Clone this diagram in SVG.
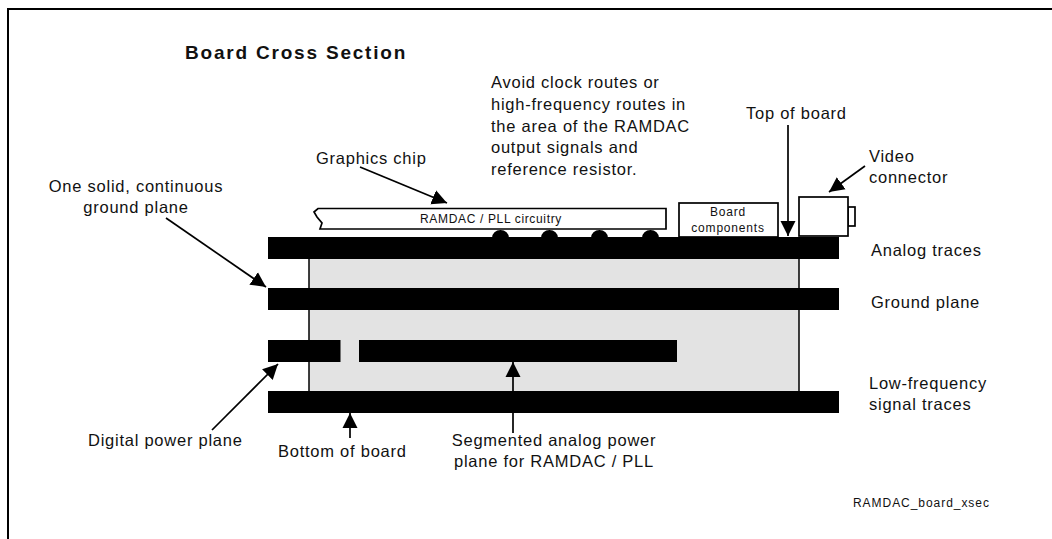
<svg xmlns="http://www.w3.org/2000/svg" width="1052" height="539" viewBox="0 0 1052 539">
<style>
text{font-family:"Liberation Sans",Arial,sans-serif;fill:#111;font-size:16.5px;letter-spacing:.75px}
.m{text-anchor:middle}
.s{font-size:12px;letter-spacing:.65px}
.bar{fill:#000}
.box{fill:#fff;stroke:#000;stroke-width:1.7}
.ln{fill:none;stroke:#000;stroke-width:1.5}
.cn{fill:none;stroke:#000;stroke-width:1.7;marker-end:url(#ah)}
</style>
<defs><marker id="ah" markerUnits="userSpaceOnUse" markerWidth="18" markerHeight="18" refX="15" refY="8" orient="auto"><path d="M0 0.500L15 8L0 15.500Z" fill="#000"/></marker></defs>
<path class="ln" style="stroke-width:2" d="M8 539V9H1052"/>
<g id="board">
<rect x="309" y="259" width="490" height="132" fill="#e3e3e3"/>
<path class="ln" d="M309 259V391M799 259V391"/>
<rect class="bar" x="268" y="237" width="571" height="22"/>
<rect class="bar" x="268" y="288" width="571" height="22"/>
<rect class="bar" x="268" y="340" width="72.500" height="22"/>
<rect class="bar" x="359" y="340" width="318" height="22"/>
<rect class="bar" x="268" y="391" width="571" height="22"/>
</g>
<g id="chip">
<path class="bar" d="M492 238a8.500 8 0 0 1 17 0ZM541 238a8.500 8 0 0 1 17 0ZM591 238a8.500 8 0 0 1 17 0ZM642 238a8.500 8 0 0 1 17 0Z"/>
<path class="box" d="M318 208.500H666V229H320L322 223L317 217L314 212Z"/>
<text class="s m" x="491" y="223">RAMDAC / PLL circuitry</text>
</g>
<g id="components"><rect class="box" x="679" y="203" width="99" height="34"/><text class="s m" style="letter-spacing:.8px" x="728" y="216">Board</text><text class="s m" style="letter-spacing:.8px" x="728" y="232">components</text></g>
<g id="connector"><rect class="box" x="848" y="207" width="7" height="19"/><rect class="box" x="799" y="197" width="49" height="39"/></g>
<g id="connectors">
<path class="cn" d="M788 125V236"/>
<path class="cn" d="M865 166L829 192"/>
<path class="cn" d="M360 167L447 203"/>
<path class="cn" d="M166 218L266 287"/>
<path class="cn" d="M212 430L278 364"/>
<path class="cn" d="M350 438V413"/>
<path class="cn" d="M513 433V362"/>
</g>
<g id="labels">
<text x="185" y="59" style="font-weight:bold;font-size:19px;letter-spacing:1.800px">Board Cross Section</text>
<text x="491" y="88">Avoid clock routes or</text>
<text x="491" y="110">high-frequency routes in</text>
<text x="491" y="132">the area of the RAMDAC</text>
<text x="491" y="153">output signals and</text>
<text x="491" y="175">reference resistor.</text>
<text x="316" y="164">Graphics chip</text>
<text x="746" y="119">Top of board</text>
<text class="m" x="136" y="192">One solid, continuous</text>
<text class="m" x="136" y="213">ground plane</text>
<text x="869" y="162">Video</text>
<text x="869" y="183">connector</text>
<text x="871" y="256">Analog traces</text>
<text x="871" y="308">Ground plane</text>
<text x="869" y="389">Low-frequency</text>
<text x="869" y="410">signal traces</text>
<text x="88" y="446">Digital power plane</text>
<text x="278" y="457">Bottom of board</text>
<text class="m" x="554" y="446">Segmented analog power</text>
<text class="m" x="554" y="467">plane for RAMDAC / PLL</text>
<text class="s" style="letter-spacing:.95px" x="853" y="507">RAMDAC_board_xsec</text>
</g>
</svg>
